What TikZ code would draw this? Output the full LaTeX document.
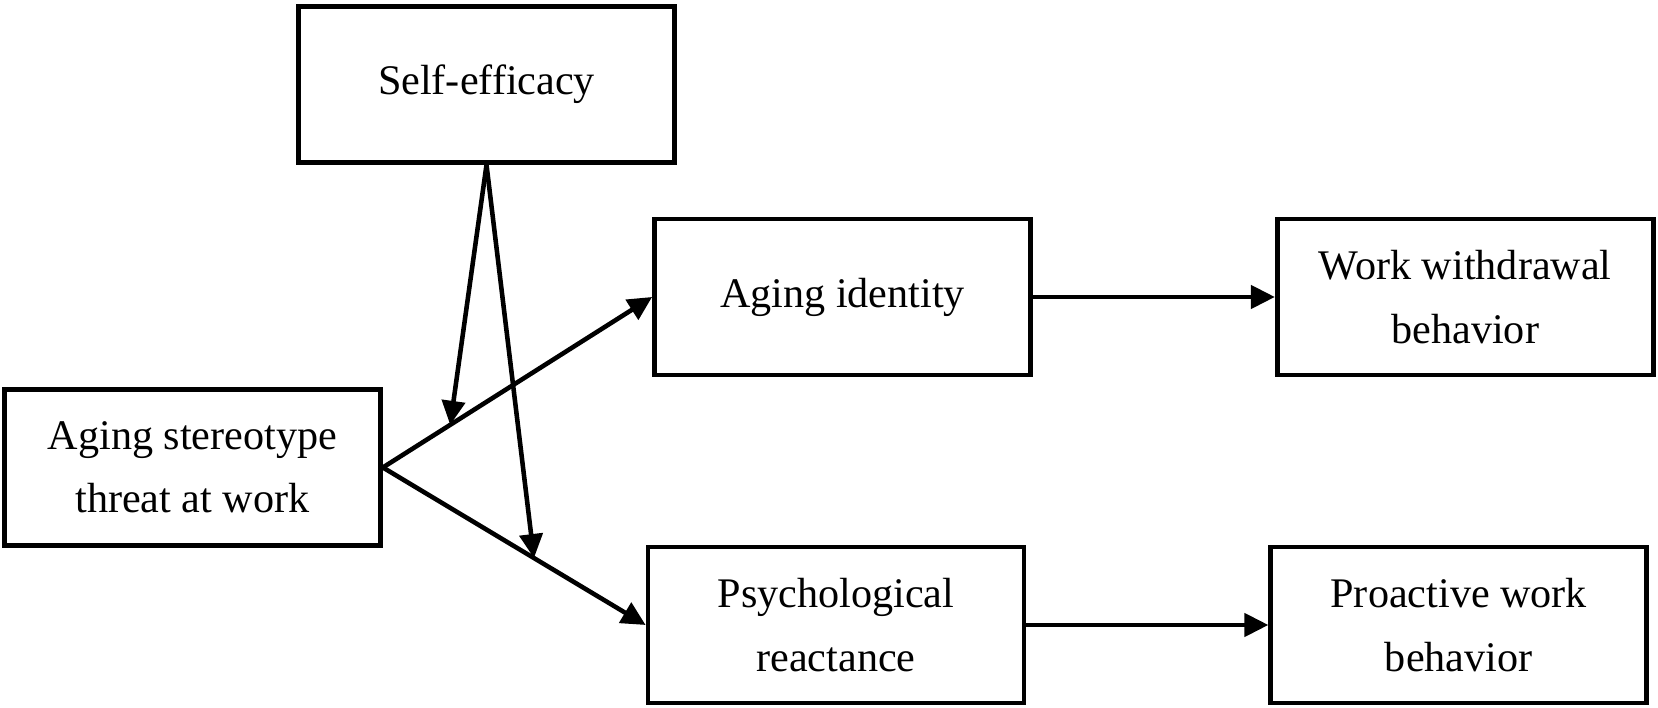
\documentclass[tikz,border=0pt]{standalone}
\usepackage{fontspec}
\setmainfont{Liberation Serif}
\usetikzlibrary{arrows.meta,positioning}

\begin{document}
\begin{tikzpicture}[% styles for all boxes and connectors
		every node/.style={
			align=center,		% use this so that "\\" breaks the line
			font=\fontsize{12}{18}\selectfont
		},
		box/.style={rectangle,draw=black,line width=1.35pt,minimum width=3.76cm,minimum height=1.56cm},
		every edge/.style={draw,line width=1.3pt},
		>={Triangle[length=2.4mm,width=2.3mm]}
	]
	\useasboundingbox (0,0) rectangle (16.58,7.08);
	\node[box](SE) at (4.865,6.235){Self-efficacy};
	\node[box](AST) at (1.925,2.405){Aging stereotype\\threat at work};
	\node[box](AI) at (8.425,4.11){Aging identity};
	\node[box](WWB)[right=2.42cm of AI]{Work withdrawal\\behavior};
	\node[box](PR) at (8.36,0.83){Psychological\\reactance};
	\node[box](PWB)[right=2.42cm of PR]{Proactive work\\behavior};
	\path[->]
	(AST.east)edge [] (AI.west)
	(AST.east)edge [] (PR.west)
	(AI)edge [] (WWB)
	(PR)edge [] (PWB)
	;
	% moderating paths from self-efficacy
	\path (AST.east) -- (AI.west) coordinate[pos=0.25] (M1);
	\path (AST.east) -- (PR.west) coordinate[pos=0.575] (M2);
	\path[->]
	(SE.south)edge [] (M1)
	(SE.south)edge [] (M2)
	;
\end{tikzpicture}
\end{document}
